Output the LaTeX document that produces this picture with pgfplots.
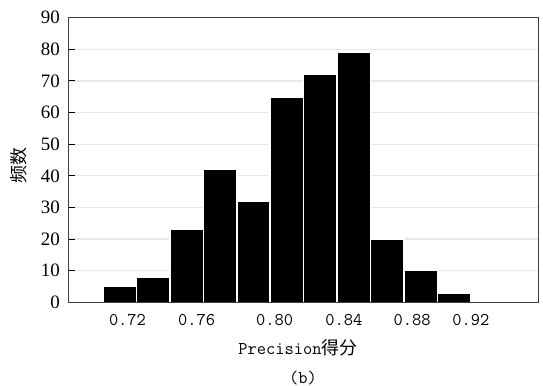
\documentclass[border=0pt]{standalone}
\usepackage{fontspec}
\setmainfont{Liberation Serif}
\newfontfamily\cjk{Noto Sans CJK SC}
\usepackage{pgfplots}
\pgfplotsset{compat=1.18}
\begin{document}
\begin{tikzpicture}
\path[use as bounding box] (-69bp,-83.7bp) rectangle (474bp,302.3bp);
\begin{axis}[at={(0,0)}, anchor=south west, scale only axis,
  width=469bp, height=284.6bp,
  xmin=-1.016, xmax=13.004, ymin=0, ymax=90,
  ytick={0,10,...,90}, ymajorgrids,
  grid style={black!9, line width=1.3bp},
  xtick={0.732,2.801,5.133,7.199,9.238,10.996},
  xticklabels={0.72,0.76,0.80,0.84,0.88,0.92},
  xtick style={draw=none},
  ytick style={black, line width=1bp},
  tick align=inside, major tick length=6bp,
  ytick pos=left,
  axis line style={black!75, line width=1bp},
  /pgf/number format/assume math mode=true,
  yticklabel style={font=\fontsize{19}{19}\selectfont, anchor=east, inner sep=0pt, xshift=-9bp},
  xticklabel style={font=\fontsize{18}{18}\selectfont\ttfamily, anchor=north, inner sep=0pt, yshift=-12bp},
  clip=false,
]
\addplot[ybar interval, fill=black, draw=white, line width=1.5bp] coordinates {(0,5) (1,8) (2,23) (3,42) (4,32) (5,65) (6,72) (7,79) (8,20) (9,10) (10,3) (11,3)};
\draw[black!75, line width=1bp] (rel axis cs:0,0) -- (rel axis cs:1,0);
\node[rotate=90, font=\fontsize{18}{18}\selectfont\cjk] at ([xshift=-50bp]rel axis cs:0,0.482) {频数};
\node[font=\fontsize{18}{18}\selectfont] at ([yshift=-45.7bp]rel axis cs:0.488,0) {{\ttfamily Precision}{\cjk 得分}};
\node[font=\fontsize{18}{18}\selectfont\ttfamily] at ([yshift=-75.7bp]rel axis cs:0.499,0) {(b)};
\end{axis}
\end{tikzpicture}
\end{document}
